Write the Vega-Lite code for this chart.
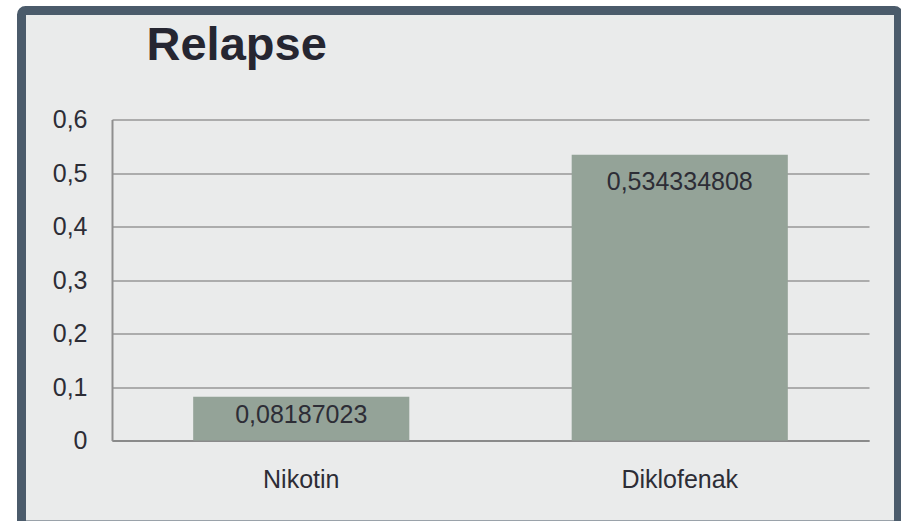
{
  "$schema": "https://vega.github.io/schema/vega-lite/v6.json",
  "autosize": {"type": "none"},
  "width": 877,
  "height": 514.5,
  "padding": {"left": 21.5, "top": 10.5, "right": 2.5, "bottom": -4},
  "background": "#ffffff",
  "title": {
    "text": "Relapse",
    "anchor": "start",
    "frame": "group",
    "orient": "top",
    "font": "Liberation Sans",
    "fontSize": 47,
    "fontWeight": "bold",
    "color": "#262631",
    "baseline": "alphabetic",
    "offset": 0,
    "dx": 125,
    "dy": 96
  },
  "data": {
    "values": [
      {"drug": "Nikotin", "relapse": 0.08187023},
      {"drug": "Diklofenak", "relapse": 0.534334808}
    ]
  },
  "encoding": {
    "x": {
      "field": "drug",
      "type": "nominal",
      "sort": ["Nikotin", "Diklofenak"],
      "scale": {"range": [90.5, 847.5], "paddingInner": 0, "paddingOuter": 0},
      "axis": {
        "title": null,
        "orient": "bottom",
        "offset": -84.5,
        "domainColor": "#8a8a8a",
        "domainWidth": 2,
        "ticks": false,
        "tickSize": 0,
        "labelAngle": 0,
        "labelFont": "Liberation Sans",
        "labelFontSize": 25,
        "labelColor": "#2d2d36",
        "labelBaseline": "alphabetic",
        "labelPadding": 46.5,
        "grid": false
      }
    },
    "y": {
      "field": "relapse",
      "type": "quantitative",
      "scale": {"domain": [0, 0.6], "range": [430, 109], "nice": false, "zero": true},
      "axis": {
        "title": null,
        "orient": "left",
        "offset": -90.5,
        "values": [0, 0.1, 0.2, 0.3, 0.4, 0.5, 0.6],
        "format": ".1~f",
        "domainColor": "#8f8f8f",
        "domainWidth": 2,
        "ticks": false,
        "tickSize": 0,
        "labelFont": "Liberation Sans",
        "labelFontSize": 25,
        "labelColor": "#2d2d36",
        "labelPadding": 25,
        "labelBaseline": "middle",
        "grid": true,
        "gridColor": "#979797",
        "gridWidth": 1.6
      }
    }
  },
  "layer": [
    {
      "mark": {"type": "bar", "color": "#94a398", "width": {"band": 0.571}}
    },
    {
      "transform": [{"filter": "datum.drug === 'Nikotin'"}],
      "mark": {"type": "text", "font": "Liberation Sans", "fontSize": 25, "color": "#2d2d36", "baseline": "alphabetic", "dy": 26},
      "encoding": {"text": {"field": "relapse", "type": "quantitative", "format": ".12~g"}}
    },
    {
      "transform": [{"filter": "datum.drug === 'Diklofenak'"}],
      "mark": {"type": "text", "font": "Liberation Sans", "fontSize": 25, "color": "#2d2d36", "baseline": "alphabetic", "dy": 35.5},
      "encoding": {"text": {"field": "relapse", "type": "quantitative", "format": ".12~g"}}
    }
  ],
  "config": {
    "locale": {
      "number": {"decimal": ",", "thousands": ".", "grouping": [3], "currency": ["", " €"]}
    },
    "view": {"fill": "#eaebeb", "stroke": "#4b5b6b", "strokeWidth": 9, "cornerRadius": 4}
  }
}
